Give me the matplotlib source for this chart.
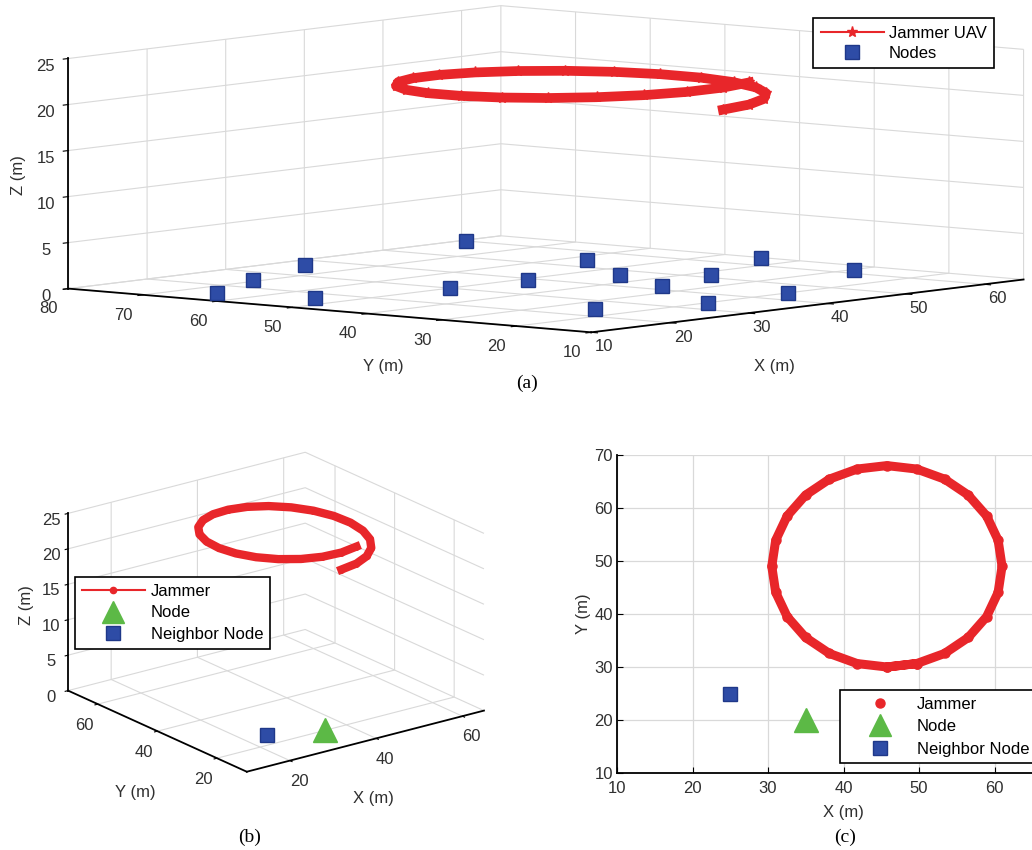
import matplotlib
matplotlib.use("Agg")
import matplotlib.pyplot as plt
from matplotlib.lines import Line2D

plt.rcParams['font.family'] = ['Liberation Sans', 'DejaVu Sans']
plt.rcParams['grid.color'] = '#d9d9d9'
plt.rcParams['grid.linewidth'] = 0.8

W, H = 1032, 850
FS = 12

# ---------------- data ----------------
# Jammer UAV trajectory (spiral, slowly descending)
jam_x = [49.70, 45.75, 41.80, 38.13, 34.97, 32.54, 31.02, 30.50, 31.02, 32.54,
         34.97, 38.13, 41.80, 45.75, 49.70, 53.38, 56.53, 58.96, 60.48, 61.00,
         60.48, 58.96, 56.53, 53.38, 49.70, 45.75]
jam_y = [30.65, 30.00, 30.65, 32.55, 35.57, 39.50, 44.08, 49.00, 53.92, 58.50,
         62.43, 65.45, 67.35, 68.00, 67.35, 65.45, 62.43, 58.50, 53.92, 49.00,
         44.08, 39.50, 35.57, 32.55, 30.65, 30.00]
jam_z = [21.6, 21.5, 21.4, 21.3, 21.2, 21.1, 21.0, 20.9, 20.8, 20.7,
         20.6, 20.5, 20.4, 20.3, 20.2, 20.1, 20.0, 19.9, 19.8, 19.7,
         19.6, 19.5, 19.4, 19.3, 19.2, 19.1]

# Ground nodes of panel (a)
nodes_x = [14.9, 24.8, 36.8, 16.9, 60.0, 30.0, 39.0, 54.4, 46.8, 24.5,
           42.2, 51.5, 34.0, 64.5, 44.3, 62.0]
nodes_y = [65.3, 70.9, 76.6, 54.2, 79.4, 50.0, 49.0, 57.3, 44.9, 24.7,
           34.4, 37.7, 19.6, 44.7, 19.8, 29.5]
nodes_z = [0, 0, 0, 0, 0, 0, 0, 0, 0, 0, 0, 0, 0, 0, 0, 0]

# Node and neighbour node of panels (b), (c)
node_x, node_y, node_z = [35], [20], [0]
nbr_x, nbr_y, nbr_z = [25], [25], [0]

# ticks
ticks_a_x = [10, 20, 30, 40, 50, 60]
ticks_a_y = [10, 20, 30, 40, 50, 60, 70, 80]
ticks_z = [0, 5, 10, 15, 20, 25]
ticks_b_xy = [20, 40, 60]
ticks_c_x = [10, 20, 30, 40, 50, 60, 70]
ticks_c_y = [10, 20, 30, 40, 50, 60, 70]

RED = '#e8262a'
BLUE = '#2e4ca6'
BLUE_E = '#1f3889'
GREEN = '#5cb946'
TXT = '#303030'

fig = plt.figure(figsize=(W / 100, H / 100), dpi=100)


def style3d(ax, pad_x, pad_y, pad_z):
    for axis in (ax.xaxis, ax.yaxis, ax.zaxis):
        axis.set_pane_color((1, 1, 1, 0))
        axis.pane.set_edgecolor('#d4d4d4')
        axis.line.set_color('black')
        axis.line.set_linewidth(1.3)
        axis._axinfo['grid']['color'] = '#d9d9d9'
        axis._axinfo['grid']['linewidth'] = 0.8
        axis._axinfo['tick']['inward_factor'] = 0.15
        axis._axinfo['tick']['outward_factor'] = 0.0
        axis.set_tick_params(labelsize=FS, labelcolor=TXT, colors='black')
    ax.xaxis.set_tick_params(pad=pad_x)
    ax.yaxis.set_tick_params(pad=pad_y)
    ax.zaxis.set_tick_params(pad=pad_z)
    ax.patch.set_visible(False)


def ax3d_at(cx, cy, S, aspect, zoom, elev, azim):
    # cx, cy: pixel centre of the projected box (from top-left)
    left = cx - 0.5135 * S
    bottom = (H - cy) - 0.5135 * S
    ax = fig.add_axes([left / W, bottom / H, S / W, S / H],
                      projection='3d', proj_type='ortho')
    ax.set_box_aspect(aspect, zoom=zoom)
    ax.view_init(elev=elev, azim=azim)
    return ax


def label(x, y, s, rot=0):
    fig.text(x / W, 1 - y / H, s, ha='center', va='center', rotation=rot,
             fontsize=FS, color=TXT)


# ---------------- (a) ----------------
axa = ax3d_at(546, 169, 1000, (1, 1, 0.341), 0.958, 5.8, -140.4)
style3d(axa, 1.5, 9, 1)
axa.set_xlim(10, 65)
axa.set_ylim(10, 80)
axa.set_zlim(0, 25)
axa.set_xticks(ticks_a_x)
axa.set_yticks(ticks_a_y)
axa.set_zticks(ticks_z)
axa.plot(jam_x, jam_y, jam_z, color=RED, lw=7, marker='*', ms=8,
         clip_on=False)
axa.plot(nodes_x, nodes_y, nodes_z, ls='none', marker='s', ms=10,
         mfc=BLUE, mec=BLUE_E, clip_on=False)
label(18, 175, 'Z (m)', 90)
label(383, 367, 'Y (m)')
label(774, 366, 'X (m)')

leg_a = [Line2D([], [], color=RED, lw=1.5, marker='*', ms=8),
         Line2D([], [], ls='none', marker='s', ms=10, mfc=BLUE, mec=BLUE_E)]
la = fig.legend(leg_a, ['Jammer UAV', 'Nodes'], loc='upper left',
                bbox_to_anchor=(813 / W, 1 - 18 / H), fontsize=FS,
                fancybox=False, edgecolor='black', framealpha=1,
                borderaxespad=0, handlelength=3.8, handletextpad=0.3,
                labelspacing=0.3, borderpad=0.45)
la.get_frame().set_linewidth(1.2)

# ---------------- (b) ----------------
axb = ax3d_at(276, 612, 468, (1, 1, 0.635), 0.955, 20.0, -127)
style3d(axb, 1, 2, -1)
axb.set_xlim(10, 65)
axb.set_ylim(10, 70)
axb.set_zlim(0, 25)
axb.set_xticks(ticks_b_xy)
axb.set_yticks(ticks_b_xy)
axb.set_zticks(ticks_z)
axb.plot(jam_x, jam_y, jam_z, color=RED, lw=6, marker='.', ms=8,
         clip_on=False)
axb.plot(node_x, node_y, node_z, ls='none', marker='^', ms=17,
         mfc=GREEN, mec=GREEN, clip_on=False)
axb.plot(nbr_x, nbr_y, nbr_z, ls='none', marker='s', ms=10.5,
         mfc=BLUE, mec=BLUE_E, clip_on=False)
label(27, 605, 'Z (m)', 90)
label(135, 793, 'Y (m)')
label(373, 798, 'X (m)')

leg_b = [Line2D([], [], color=RED, lw=1.5, marker='.', ms=9),
         Line2D([], [], ls='none', marker='^', ms=16, mfc=GREEN, mec=GREEN),
         Line2D([], [], ls='none', marker='s', ms=10.5, mfc=BLUE, mec=BLUE_E)]
lb = fig.legend(leg_b, ['Jammer', 'Node', 'Neighbor Node'], loc='upper left',
                bbox_to_anchor=(75 / W, 1 - 577 / H), fontsize=FS,
                fancybox=False, edgecolor='black', framealpha=1,
                borderaxespad=0, handlelength=3.8, handletextpad=0.35,
                labelspacing=0.4, borderpad=0.4)
lb.get_frame().set_linewidth(1.2)

# ---------------- (c) ----------------
axc = fig.add_axes([617 / W, 77 / H, 453 / W, 318 / H])
axc.plot(jam_x, jam_y, color=RED, lw=6.5, solid_capstyle='round')
axc.plot(jam_x, jam_y, ls='none', marker='o', ms=6.5, color=RED)
axc.plot(node_x, node_y, ls='none', marker='^', ms=17, mfc=GREEN, mec=GREEN)
axc.plot(nbr_x, nbr_y, ls='none', marker='s', ms=10, mfc=BLUE, mec=BLUE_E)
axc.set_xlim(10, 70)
axc.set_ylim(10, 70)
axc.set_xticks(ticks_c_x)
axc.set_yticks(ticks_c_y)
axc.grid(True, color='#d9d9d9', lw=0.9)
axc.set_axisbelow(True)
for s in ('top', 'right'):
    axc.spines[s].set_visible(False)
for s in ('left', 'bottom'):
    axc.spines[s].set_linewidth(1.3)
axc.tick_params(axis='x', direction='in', length=4, labelsize=FS,
                labelcolor=TXT, pad=6)
axc.tick_params(axis='y', direction='in', length=4, labelsize=FS,
                labelcolor=TXT, pad=3)
axc.set_xlabel('X (m)', fontsize=FS, color=TXT, labelpad=6)
axc.set_ylabel('Y (m)', fontsize=FS, color=TXT, labelpad=2)

leg_c = [Line2D([], [], ls='none', marker='o', ms=6.5, color=RED),
         Line2D([], [], ls='none', marker='^', ms=16, mfc=GREEN, mec=GREEN),
         Line2D([], [], ls='none', marker='s', ms=10.5, mfc=BLUE, mec=BLUE_E)]
lc = fig.legend(leg_c, ['Jammer', 'Node', 'Neighbor Node'], loc='upper left',
                bbox_to_anchor=(840 / W, 1 - 690 / H), fontsize=FS,
                fancybox=False, edgecolor='black', framealpha=1,
                borderaxespad=0, handlelength=3.95, handletextpad=0.25,
                labelspacing=0.45, borderpad=0.4)
lc.get_frame().set_linewidth(1.2)

# captions
serif = ['Liberation Serif', 'DejaVu Serif']
fig.text(527 / W, 1 - 383 / H, '(a)', ha='center', va='center',
         fontsize=14, family=serif)
fig.text(250 / W, 1 - 837 / H, '(b)', ha='center', va='center',
         fontsize=14, family=serif)
fig.text(845 / W, 1 - 837 / H, '(c)', ha='center', va='center',
         fontsize=14, family=serif)

fig.savefig('out.png', dpi=100)
